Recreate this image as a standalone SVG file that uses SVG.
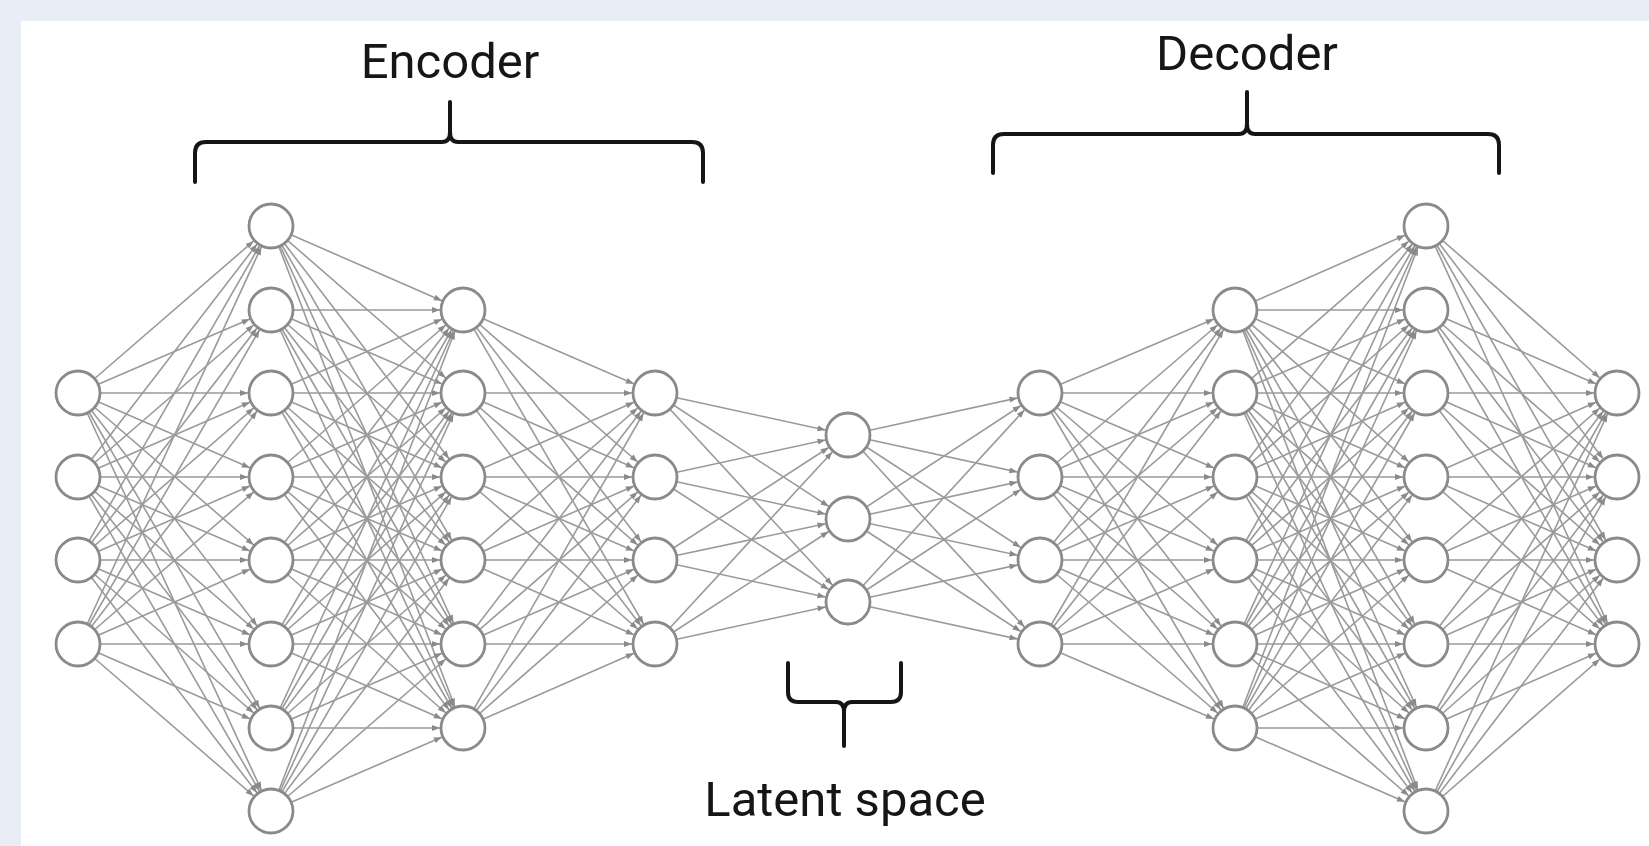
<svg xmlns="http://www.w3.org/2000/svg" width="1649" height="846" viewBox="0 0 1649 846">
  <style>
    .bg { fill: #e8edf6; }
    .panel { fill: #ffffff; }
    .edge { stroke: #9a9a9a; stroke-width: 1.6; fill: none; marker-end: url(#arrow); }
    .neuron { fill: #ffffff; stroke: #8a8a8a; stroke-width: 2.8; }
    .brace { fill: none; stroke: #151515; stroke-width: 4; stroke-linecap: round; stroke-linejoin: round; }
    .label { font-family: Roboto, "Liberation Sans", sans-serif; font-size: 49px; fill: #161616; text-anchor: middle; }
  </style>
  <defs>
    <!-- tip is pushed back by the node radius so it lands on the circle outline -->
    <marker id="arrow" markerUnits="userSpaceOnUse" markerWidth="10" markerHeight="10" refX="31" refY="5" orient="auto" overflow="visible">
      <path d="M0,2 L8,5 L0,8 Z" fill="#8a8a8a"/>
    </marker>
  </defs>

  <rect class="bg" x="0" y="0" width="1649" height="846"/>
  <rect class="panel" x="21" y="21" width="1628" height="825"/>

  <g id="connectors">
    <!-- input (4) to hidden 1 (8) -->
    <line class="edge" x1="78" y1="393" x2="271" y2="226"/><line class="edge" x1="78" y1="393" x2="271" y2="310"/><line class="edge" x1="78" y1="393" x2="271" y2="393"/><line class="edge" x1="78" y1="393" x2="271" y2="477"/><line class="edge" x1="78" y1="393" x2="271" y2="560"/><line class="edge" x1="78" y1="393" x2="271" y2="644"/><line class="edge" x1="78" y1="393" x2="271" y2="728"/><line class="edge" x1="78" y1="393" x2="271" y2="811"/>
    <line class="edge" x1="78" y1="477" x2="271" y2="226"/><line class="edge" x1="78" y1="477" x2="271" y2="310"/><line class="edge" x1="78" y1="477" x2="271" y2="393"/><line class="edge" x1="78" y1="477" x2="271" y2="477"/><line class="edge" x1="78" y1="477" x2="271" y2="560"/><line class="edge" x1="78" y1="477" x2="271" y2="644"/><line class="edge" x1="78" y1="477" x2="271" y2="728"/><line class="edge" x1="78" y1="477" x2="271" y2="811"/>
    <line class="edge" x1="78" y1="560" x2="271" y2="226"/><line class="edge" x1="78" y1="560" x2="271" y2="310"/><line class="edge" x1="78" y1="560" x2="271" y2="393"/><line class="edge" x1="78" y1="560" x2="271" y2="477"/><line class="edge" x1="78" y1="560" x2="271" y2="560"/><line class="edge" x1="78" y1="560" x2="271" y2="644"/><line class="edge" x1="78" y1="560" x2="271" y2="728"/><line class="edge" x1="78" y1="560" x2="271" y2="811"/>
    <line class="edge" x1="78" y1="644" x2="271" y2="226"/><line class="edge" x1="78" y1="644" x2="271" y2="310"/><line class="edge" x1="78" y1="644" x2="271" y2="393"/><line class="edge" x1="78" y1="644" x2="271" y2="477"/><line class="edge" x1="78" y1="644" x2="271" y2="560"/><line class="edge" x1="78" y1="644" x2="271" y2="644"/><line class="edge" x1="78" y1="644" x2="271" y2="728"/><line class="edge" x1="78" y1="644" x2="271" y2="811"/>

    <!-- hidden 1 (8) to hidden 2 (6) -->
    <line class="edge" x1="271" y1="226" x2="463" y2="310"/><line class="edge" x1="271" y1="226" x2="463" y2="393"/><line class="edge" x1="271" y1="226" x2="463" y2="477"/><line class="edge" x1="271" y1="226" x2="463" y2="560"/><line class="edge" x1="271" y1="226" x2="463" y2="644"/><line class="edge" x1="271" y1="226" x2="463" y2="728"/>
    <line class="edge" x1="271" y1="310" x2="463" y2="310"/><line class="edge" x1="271" y1="310" x2="463" y2="393"/><line class="edge" x1="271" y1="310" x2="463" y2="477"/><line class="edge" x1="271" y1="310" x2="463" y2="560"/><line class="edge" x1="271" y1="310" x2="463" y2="644"/><line class="edge" x1="271" y1="310" x2="463" y2="728"/>
    <line class="edge" x1="271" y1="393" x2="463" y2="310"/><line class="edge" x1="271" y1="393" x2="463" y2="393"/><line class="edge" x1="271" y1="393" x2="463" y2="477"/><line class="edge" x1="271" y1="393" x2="463" y2="560"/><line class="edge" x1="271" y1="393" x2="463" y2="644"/><line class="edge" x1="271" y1="393" x2="463" y2="728"/>
    <line class="edge" x1="271" y1="477" x2="463" y2="310"/><line class="edge" x1="271" y1="477" x2="463" y2="393"/><line class="edge" x1="271" y1="477" x2="463" y2="477"/><line class="edge" x1="271" y1="477" x2="463" y2="560"/><line class="edge" x1="271" y1="477" x2="463" y2="644"/><line class="edge" x1="271" y1="477" x2="463" y2="728"/>
    <line class="edge" x1="271" y1="560" x2="463" y2="310"/><line class="edge" x1="271" y1="560" x2="463" y2="393"/><line class="edge" x1="271" y1="560" x2="463" y2="477"/><line class="edge" x1="271" y1="560" x2="463" y2="560"/><line class="edge" x1="271" y1="560" x2="463" y2="644"/><line class="edge" x1="271" y1="560" x2="463" y2="728"/>
    <line class="edge" x1="271" y1="644" x2="463" y2="310"/><line class="edge" x1="271" y1="644" x2="463" y2="393"/><line class="edge" x1="271" y1="644" x2="463" y2="477"/><line class="edge" x1="271" y1="644" x2="463" y2="560"/><line class="edge" x1="271" y1="644" x2="463" y2="644"/><line class="edge" x1="271" y1="644" x2="463" y2="728"/>
    <line class="edge" x1="271" y1="728" x2="463" y2="310"/><line class="edge" x1="271" y1="728" x2="463" y2="393"/><line class="edge" x1="271" y1="728" x2="463" y2="477"/><line class="edge" x1="271" y1="728" x2="463" y2="560"/><line class="edge" x1="271" y1="728" x2="463" y2="644"/><line class="edge" x1="271" y1="728" x2="463" y2="728"/>
    <line class="edge" x1="271" y1="811" x2="463" y2="310"/><line class="edge" x1="271" y1="811" x2="463" y2="393"/><line class="edge" x1="271" y1="811" x2="463" y2="477"/><line class="edge" x1="271" y1="811" x2="463" y2="560"/><line class="edge" x1="271" y1="811" x2="463" y2="644"/><line class="edge" x1="271" y1="811" x2="463" y2="728"/>

    <!-- hidden 2 (6) to hidden 3 (4) -->
    <line class="edge" x1="463" y1="310" x2="655" y2="393"/><line class="edge" x1="463" y1="310" x2="655" y2="477"/><line class="edge" x1="463" y1="310" x2="655" y2="560"/><line class="edge" x1="463" y1="310" x2="655" y2="644"/>
    <line class="edge" x1="463" y1="393" x2="655" y2="393"/><line class="edge" x1="463" y1="393" x2="655" y2="477"/><line class="edge" x1="463" y1="393" x2="655" y2="560"/><line class="edge" x1="463" y1="393" x2="655" y2="644"/>
    <line class="edge" x1="463" y1="477" x2="655" y2="393"/><line class="edge" x1="463" y1="477" x2="655" y2="477"/><line class="edge" x1="463" y1="477" x2="655" y2="560"/><line class="edge" x1="463" y1="477" x2="655" y2="644"/>
    <line class="edge" x1="463" y1="560" x2="655" y2="393"/><line class="edge" x1="463" y1="560" x2="655" y2="477"/><line class="edge" x1="463" y1="560" x2="655" y2="560"/><line class="edge" x1="463" y1="560" x2="655" y2="644"/>
    <line class="edge" x1="463" y1="644" x2="655" y2="393"/><line class="edge" x1="463" y1="644" x2="655" y2="477"/><line class="edge" x1="463" y1="644" x2="655" y2="560"/><line class="edge" x1="463" y1="644" x2="655" y2="644"/>
    <line class="edge" x1="463" y1="728" x2="655" y2="393"/><line class="edge" x1="463" y1="728" x2="655" y2="477"/><line class="edge" x1="463" y1="728" x2="655" y2="560"/><line class="edge" x1="463" y1="728" x2="655" y2="644"/>

    <!-- hidden 3 (4) to latent (3) -->
    <line class="edge" x1="655" y1="393" x2="848" y2="435"/><line class="edge" x1="655" y1="393" x2="848" y2="519"/><line class="edge" x1="655" y1="393" x2="848" y2="602"/>
    <line class="edge" x1="655" y1="477" x2="848" y2="435"/><line class="edge" x1="655" y1="477" x2="848" y2="519"/><line class="edge" x1="655" y1="477" x2="848" y2="602"/>
    <line class="edge" x1="655" y1="560" x2="848" y2="435"/><line class="edge" x1="655" y1="560" x2="848" y2="519"/><line class="edge" x1="655" y1="560" x2="848" y2="602"/>
    <line class="edge" x1="655" y1="644" x2="848" y2="435"/><line class="edge" x1="655" y1="644" x2="848" y2="519"/><line class="edge" x1="655" y1="644" x2="848" y2="602"/>

    <!-- latent (3) to decoder 1 (4) -->
    <line class="edge" x1="848" y1="435" x2="1040" y2="393"/><line class="edge" x1="848" y1="435" x2="1040" y2="477"/><line class="edge" x1="848" y1="435" x2="1040" y2="560"/><line class="edge" x1="848" y1="435" x2="1040" y2="644"/>
    <line class="edge" x1="848" y1="519" x2="1040" y2="393"/><line class="edge" x1="848" y1="519" x2="1040" y2="477"/><line class="edge" x1="848" y1="519" x2="1040" y2="560"/><line class="edge" x1="848" y1="519" x2="1040" y2="644"/>
    <line class="edge" x1="848" y1="602" x2="1040" y2="393"/><line class="edge" x1="848" y1="602" x2="1040" y2="477"/><line class="edge" x1="848" y1="602" x2="1040" y2="560"/><line class="edge" x1="848" y1="602" x2="1040" y2="644"/>

    <!-- decoder 1 (4) to decoder 2 (6) -->
    <line class="edge" x1="1040" y1="393" x2="1235" y2="310"/><line class="edge" x1="1040" y1="393" x2="1235" y2="393"/><line class="edge" x1="1040" y1="393" x2="1235" y2="477"/><line class="edge" x1="1040" y1="393" x2="1235" y2="560"/><line class="edge" x1="1040" y1="393" x2="1235" y2="644"/><line class="edge" x1="1040" y1="393" x2="1235" y2="728"/>
    <line class="edge" x1="1040" y1="477" x2="1235" y2="310"/><line class="edge" x1="1040" y1="477" x2="1235" y2="393"/><line class="edge" x1="1040" y1="477" x2="1235" y2="477"/><line class="edge" x1="1040" y1="477" x2="1235" y2="560"/><line class="edge" x1="1040" y1="477" x2="1235" y2="644"/><line class="edge" x1="1040" y1="477" x2="1235" y2="728"/>
    <line class="edge" x1="1040" y1="560" x2="1235" y2="310"/><line class="edge" x1="1040" y1="560" x2="1235" y2="393"/><line class="edge" x1="1040" y1="560" x2="1235" y2="477"/><line class="edge" x1="1040" y1="560" x2="1235" y2="560"/><line class="edge" x1="1040" y1="560" x2="1235" y2="644"/><line class="edge" x1="1040" y1="560" x2="1235" y2="728"/>
    <line class="edge" x1="1040" y1="644" x2="1235" y2="310"/><line class="edge" x1="1040" y1="644" x2="1235" y2="393"/><line class="edge" x1="1040" y1="644" x2="1235" y2="477"/><line class="edge" x1="1040" y1="644" x2="1235" y2="560"/><line class="edge" x1="1040" y1="644" x2="1235" y2="644"/><line class="edge" x1="1040" y1="644" x2="1235" y2="728"/>

    <!-- decoder 2 (6) to decoder 3 (8) -->
    <line class="edge" x1="1235" y1="310" x2="1426" y2="226"/><line class="edge" x1="1235" y1="310" x2="1426" y2="310"/><line class="edge" x1="1235" y1="310" x2="1426" y2="393"/><line class="edge" x1="1235" y1="310" x2="1426" y2="477"/><line class="edge" x1="1235" y1="310" x2="1426" y2="560"/><line class="edge" x1="1235" y1="310" x2="1426" y2="644"/><line class="edge" x1="1235" y1="310" x2="1426" y2="728"/><line class="edge" x1="1235" y1="310" x2="1426" y2="811"/>
    <line class="edge" x1="1235" y1="393" x2="1426" y2="226"/><line class="edge" x1="1235" y1="393" x2="1426" y2="310"/><line class="edge" x1="1235" y1="393" x2="1426" y2="393"/><line class="edge" x1="1235" y1="393" x2="1426" y2="477"/><line class="edge" x1="1235" y1="393" x2="1426" y2="560"/><line class="edge" x1="1235" y1="393" x2="1426" y2="644"/><line class="edge" x1="1235" y1="393" x2="1426" y2="728"/><line class="edge" x1="1235" y1="393" x2="1426" y2="811"/>
    <line class="edge" x1="1235" y1="477" x2="1426" y2="226"/><line class="edge" x1="1235" y1="477" x2="1426" y2="310"/><line class="edge" x1="1235" y1="477" x2="1426" y2="393"/><line class="edge" x1="1235" y1="477" x2="1426" y2="477"/><line class="edge" x1="1235" y1="477" x2="1426" y2="560"/><line class="edge" x1="1235" y1="477" x2="1426" y2="644"/><line class="edge" x1="1235" y1="477" x2="1426" y2="728"/><line class="edge" x1="1235" y1="477" x2="1426" y2="811"/>
    <line class="edge" x1="1235" y1="560" x2="1426" y2="226"/><line class="edge" x1="1235" y1="560" x2="1426" y2="310"/><line class="edge" x1="1235" y1="560" x2="1426" y2="393"/><line class="edge" x1="1235" y1="560" x2="1426" y2="477"/><line class="edge" x1="1235" y1="560" x2="1426" y2="560"/><line class="edge" x1="1235" y1="560" x2="1426" y2="644"/><line class="edge" x1="1235" y1="560" x2="1426" y2="728"/><line class="edge" x1="1235" y1="560" x2="1426" y2="811"/>
    <line class="edge" x1="1235" y1="644" x2="1426" y2="226"/><line class="edge" x1="1235" y1="644" x2="1426" y2="310"/><line class="edge" x1="1235" y1="644" x2="1426" y2="393"/><line class="edge" x1="1235" y1="644" x2="1426" y2="477"/><line class="edge" x1="1235" y1="644" x2="1426" y2="560"/><line class="edge" x1="1235" y1="644" x2="1426" y2="644"/><line class="edge" x1="1235" y1="644" x2="1426" y2="728"/><line class="edge" x1="1235" y1="644" x2="1426" y2="811"/>
    <line class="edge" x1="1235" y1="728" x2="1426" y2="226"/><line class="edge" x1="1235" y1="728" x2="1426" y2="310"/><line class="edge" x1="1235" y1="728" x2="1426" y2="393"/><line class="edge" x1="1235" y1="728" x2="1426" y2="477"/><line class="edge" x1="1235" y1="728" x2="1426" y2="560"/><line class="edge" x1="1235" y1="728" x2="1426" y2="644"/><line class="edge" x1="1235" y1="728" x2="1426" y2="728"/><line class="edge" x1="1235" y1="728" x2="1426" y2="811"/>

    <!-- decoder 3 (8) to output (4) -->
    <line class="edge" x1="1426" y1="226" x2="1617" y2="393"/><line class="edge" x1="1426" y1="226" x2="1617" y2="477"/><line class="edge" x1="1426" y1="226" x2="1617" y2="560"/><line class="edge" x1="1426" y1="226" x2="1617" y2="644"/>
    <line class="edge" x1="1426" y1="310" x2="1617" y2="393"/><line class="edge" x1="1426" y1="310" x2="1617" y2="477"/><line class="edge" x1="1426" y1="310" x2="1617" y2="560"/><line class="edge" x1="1426" y1="310" x2="1617" y2="644"/>
    <line class="edge" x1="1426" y1="393" x2="1617" y2="393"/><line class="edge" x1="1426" y1="393" x2="1617" y2="477"/><line class="edge" x1="1426" y1="393" x2="1617" y2="560"/><line class="edge" x1="1426" y1="393" x2="1617" y2="644"/>
    <line class="edge" x1="1426" y1="477" x2="1617" y2="393"/><line class="edge" x1="1426" y1="477" x2="1617" y2="477"/><line class="edge" x1="1426" y1="477" x2="1617" y2="560"/><line class="edge" x1="1426" y1="477" x2="1617" y2="644"/>
    <line class="edge" x1="1426" y1="560" x2="1617" y2="393"/><line class="edge" x1="1426" y1="560" x2="1617" y2="477"/><line class="edge" x1="1426" y1="560" x2="1617" y2="560"/><line class="edge" x1="1426" y1="560" x2="1617" y2="644"/>
    <line class="edge" x1="1426" y1="644" x2="1617" y2="393"/><line class="edge" x1="1426" y1="644" x2="1617" y2="477"/><line class="edge" x1="1426" y1="644" x2="1617" y2="560"/><line class="edge" x1="1426" y1="644" x2="1617" y2="644"/>
    <line class="edge" x1="1426" y1="728" x2="1617" y2="393"/><line class="edge" x1="1426" y1="728" x2="1617" y2="477"/><line class="edge" x1="1426" y1="728" x2="1617" y2="560"/><line class="edge" x1="1426" y1="728" x2="1617" y2="644"/>
    <line class="edge" x1="1426" y1="811" x2="1617" y2="393"/><line class="edge" x1="1426" y1="811" x2="1617" y2="477"/><line class="edge" x1="1426" y1="811" x2="1617" y2="560"/><line class="edge" x1="1426" y1="811" x2="1617" y2="644"/>
  </g>

  <g id="layer-input">
    <circle class="neuron" cx="78" cy="393" r="22"/>
    <circle class="neuron" cx="78" cy="477" r="22"/>
    <circle class="neuron" cx="78" cy="560" r="22"/>
    <circle class="neuron" cx="78" cy="644" r="22"/>
  </g>
  <g id="layer-enc-1">
    <circle class="neuron" cx="271" cy="226" r="22"/>
    <circle class="neuron" cx="271" cy="310" r="22"/>
    <circle class="neuron" cx="271" cy="393" r="22"/>
    <circle class="neuron" cx="271" cy="477" r="22"/>
    <circle class="neuron" cx="271" cy="560" r="22"/>
    <circle class="neuron" cx="271" cy="644" r="22"/>
    <circle class="neuron" cx="271" cy="728" r="22"/>
    <circle class="neuron" cx="271" cy="811" r="22"/>
  </g>
  <g id="layer-enc-2">
    <circle class="neuron" cx="463" cy="310" r="22"/>
    <circle class="neuron" cx="463" cy="393" r="22"/>
    <circle class="neuron" cx="463" cy="477" r="22"/>
    <circle class="neuron" cx="463" cy="560" r="22"/>
    <circle class="neuron" cx="463" cy="644" r="22"/>
    <circle class="neuron" cx="463" cy="728" r="22"/>
  </g>
  <g id="layer-enc-3">
    <circle class="neuron" cx="655" cy="393" r="22"/>
    <circle class="neuron" cx="655" cy="477" r="22"/>
    <circle class="neuron" cx="655" cy="560" r="22"/>
    <circle class="neuron" cx="655" cy="644" r="22"/>
  </g>
  <g id="layer-latent">
    <circle class="neuron" cx="848" cy="435" r="22"/>
    <circle class="neuron" cx="848" cy="519" r="22"/>
    <circle class="neuron" cx="848" cy="602" r="22"/>
  </g>
  <g id="layer-dec-1">
    <circle class="neuron" cx="1040" cy="393" r="22"/>
    <circle class="neuron" cx="1040" cy="477" r="22"/>
    <circle class="neuron" cx="1040" cy="560" r="22"/>
    <circle class="neuron" cx="1040" cy="644" r="22"/>
  </g>
  <g id="layer-dec-2">
    <circle class="neuron" cx="1235" cy="310" r="22"/>
    <circle class="neuron" cx="1235" cy="393" r="22"/>
    <circle class="neuron" cx="1235" cy="477" r="22"/>
    <circle class="neuron" cx="1235" cy="560" r="22"/>
    <circle class="neuron" cx="1235" cy="644" r="22"/>
    <circle class="neuron" cx="1235" cy="728" r="22"/>
  </g>
  <g id="layer-dec-3">
    <circle class="neuron" cx="1426" cy="226" r="22"/>
    <circle class="neuron" cx="1426" cy="310" r="22"/>
    <circle class="neuron" cx="1426" cy="393" r="22"/>
    <circle class="neuron" cx="1426" cy="477" r="22"/>
    <circle class="neuron" cx="1426" cy="560" r="22"/>
    <circle class="neuron" cx="1426" cy="644" r="22"/>
    <circle class="neuron" cx="1426" cy="728" r="22"/>
    <circle class="neuron" cx="1426" cy="811" r="22"/>
  </g>
  <g id="layer-output">
    <circle class="neuron" cx="1617" cy="393" r="22"/>
    <circle class="neuron" cx="1617" cy="477" r="22"/>
    <circle class="neuron" cx="1617" cy="560" r="22"/>
    <circle class="neuron" cx="1617" cy="644" r="22"/>
  </g>

  <g id="encoder-label">
    <path class="brace" d="M195,182 L195,153 Q195,142 206,142 L442,142 Q450,142 450,132 L450,102 L450,132 Q450,142 458,142 L692,142 Q703,142 703,153 L703,182"/>
    <text class="label" x="450" y="78">Encoder</text>
  </g>
  <g id="decoder-label">
    <path class="brace" d="M993,173 L993,145 Q993,134 1004,134 L1239,134 Q1247,134 1247,124 L1247,92 L1247,124 Q1247,134 1255,134 L1488,134 Q1499,134 1499,145 L1499,173"/>
    <text class="label" x="1247" y="70">Decoder</text>
  </g>
  <g id="latent-label">
    <path class="brace" d="M788,663 L788,692 Q788,702 798,702 L836,702 Q844,702 844,712 L844,746 L844,712 Q844,702 852,702 L891,702 Q901,702 901,692 L901,663"/>
    <text class="label" x="845" y="816">Latent space</text>
  </g>
</svg>
